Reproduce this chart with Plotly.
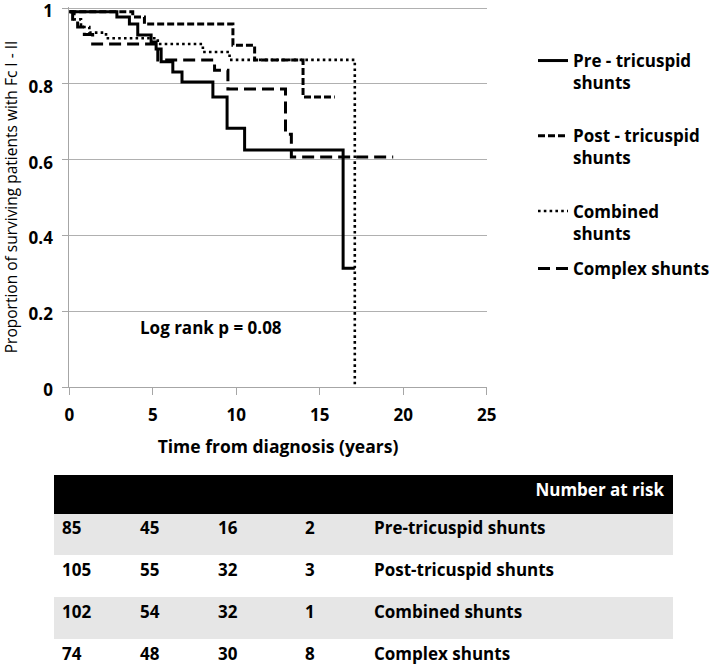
import plotly.graph_objects as go

# ---- Kaplan-Meier step data (years from diagnosis, proportion surviving with FC I-II) ----
pre_t = [0, 2.85, 3.6, 4.1, 4.9, 5.2, 5.5, 6.2, 6.75, 8.6, 9.45, 10.5, 16.4, 17.1]
pre_s = [0.99, 0.976, 0.958, 0.929, 0.91, 0.892, 0.858, 0.831, 0.805, 0.765, 0.683, 0.625, 0.313, 0.313]

post_t = [0, 3.8, 4.5, 9.8, 11.1, 14.0, 15.9]
post_s = [0.99, 0.976, 0.958, 0.902, 0.863, 0.765, 0.765]

comb_t = [0, 0.3, 0.7, 1.2, 2.2, 5.3, 8.0, 9.6, 17.1]
comb_s = [0.99, 0.97, 0.95, 0.935, 0.92, 0.905, 0.884, 0.863, 0.0]

cplx_t = [0, 0.2, 0.5, 0.9, 1.4, 5.3, 8.7, 9.5, 12.95, 13.3, 19.4]
cplx_s = [0.99, 0.97, 0.95, 0.93, 0.905, 0.863, 0.836, 0.786, 0.667, 0.607, 0.607]

series_names = ["Pre - tricuspid<br>shunts", "Post - tricuspid<br>shunts",
                "Combined<br>shunts", "Complex shunts"]

# ---- Number at risk table ----
risk_col1 = ["85", "105", "102", "74"]
risk_col2 = ["45", "55", "54", "48"]
risk_col3 = ["16", "32", "32", "30"]
risk_col4 = ["2", "3", "1", "8"]
risk_groups = ["Pre-tricuspid shunts", "Post-tricuspid shunts", "Combined shunts", "Complex shunts"]
risk_header = ["", "", "", "", "Number at risk"]

x_ticks = [0, 5, 10, 15, 20, 25]
y_ticks = [0, 0.2, 0.4, 0.6, 0.8, 1]

FONT = "Open Sans"
W, H = 716, 684          # figure is slightly taller than the 668 px window; last row is cropped
Y_TOP = 1.003            # slight headroom so the "1" gridline is kept


def py(v):
    """pixel-from-top -> paper fraction"""
    return (H - v) / H


fig = go.Figure()
styles = [
    dict(color="black", width=3, dash="solid"),
    dict(color="black", width=3, dash="7px,3px"),
    dict(color="black", width=2.6, dash="2.6px,3.2px"),
    dict(color="black", width=3, dash="12px,6px"),
]
legends = ["legend", "legend", "legend", "legend2"]
for i, (t, s) in enumerate([(pre_t, pre_s), (post_t, post_s), (comb_t, comb_s), (cplx_t, cplx_s)]):
    fig.add_trace(go.Scatter(x=t, y=s, mode="lines", line=dict(shape="hv", **styles[i]),
                             name=series_names[i], legendgroup=f"g{i}", legend=legends[i],
                             hoverinfo="skip"))

row_fill = ["#e6e6e6", "white", "#e6e6e6", "white"]
fig.add_trace(go.Table(
    domain=dict(x=[54 / W, 672 / W], y=[0, py(475)]),
    columnwidth=[78, 78, 87, 69, 306],
    header=dict(values=risk_header, fill_color="black", line=dict(color="black", width=1),
                font=dict(family=FONT, size=17, color="white", weight=700),
                align=["left", "left", "left", "left", "right"], height=38),
    cells=dict(values=[risk_col1, risk_col2, risk_col3, risk_col4, risk_groups],
               fill_color=[row_fill] * 5, line=dict(color=[row_fill] * 5, width=1),
               font=dict(family=FONT, size=17, color="black", weight=700),
               align="left", height=42),
))

fig.add_annotation(x=8.5, y=0.158, xref="x", yref="y", text="Log rank p = 0.08", showarrow=False,
                   font=dict(family=FONT, size=17, color="black", weight=700))

py_top = 8 - (Y_TOP - 1) * 379
fig.update_layout(
    width=W, height=H,
    margin=dict(l=0, r=0, t=0, b=0),
    paper_bgcolor="white", plot_bgcolor="white",
    font=dict(family=FONT, color="black"),
    xaxis=dict(domain=[69.3 / W, 486.7 / W], range=[0, 25], tickvals=x_ticks,
               showgrid=False, zeroline=False, showline=True, linecolor="#a6a6a6", linewidth=1,
               ticks="outside", ticklen=7, tickcolor="#a6a6a6", ticklabelstandoff=6,
               tickfont=dict(family=FONT, size=17, weight=700), automargin=False,
               ticklabeloverflow="allow",
               title=dict(text="Time from diagnosis (years)", standoff=15,
                          font=dict(family=FONT, size=17.5, weight=700))),
    yaxis=dict(domain=[py(387), py(py_top)], range=[0, Y_TOP], tickvals=y_ticks,
               showgrid=True, gridcolor="#b0b0b0", gridwidth=1, zeroline=False,
               showline=True, linecolor="#a6a6a6", linewidth=1,
               ticks="outside", ticklen=6, tickcolor="#a6a6a6", ticklabelstandoff=6,
               ticklabelshift=3,
               tickfont=dict(family=FONT, size=17, weight=700), automargin=False,
               ticklabeloverflow="allow",
               title=dict(text="Proportion of surviving patients with Fc I - II", standoff=7,
                          font=dict(family=FONT, size=15.5))),
    legend=dict(x=533 / W, y=py(43), xanchor="left", yanchor="top", valign="top",
                tracegroupgap=28, bgcolor="rgba(0,0,0,0)",
                font=dict(family=FONT, size=17, weight=700)),
    legend2=dict(x=533 / W, y=py(251), xanchor="left", yanchor="top", valign="top",
                 bgcolor="rgba(0,0,0,0)",
                 font=dict(family=FONT, size=17, weight=700)),
    showlegend=True,
)

fig.write_html("out.html", config={"displayModeBar": False},
               post_script="document.body.style.margin='0';document.body.style.overflow='hidden';"
                           "document.documentElement.style.overflow='hidden';")
